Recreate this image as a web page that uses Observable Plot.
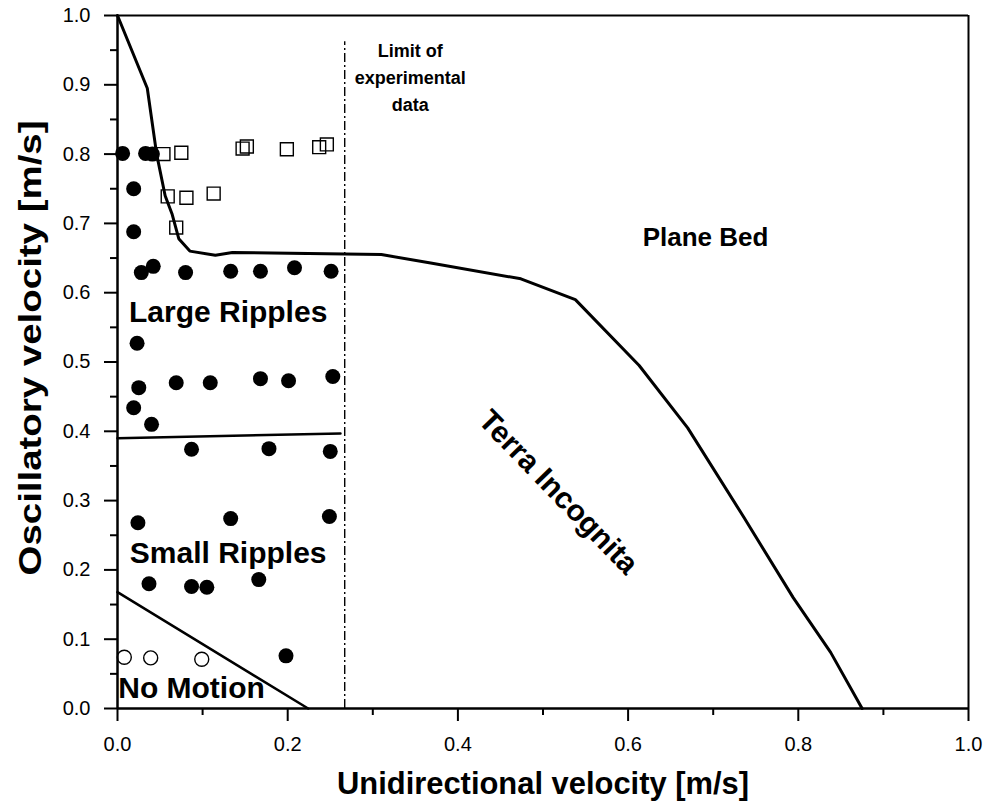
<!DOCTYPE html>
<html>
<head>
<meta charset="utf-8">
<script src="https://cdn.jsdelivr.net/npm/d3@7"></script>
<script src="https://cdn.jsdelivr.net/npm/@observablehq/plot@0.6"></script>
<style>
  html, body { margin: 0; padding: 0; background: #fff; }
  #chart svg { display: block; }
</style>
</head>
<body>
<div id="chart"></div>
<script>
// Ripple observations (filled circles)
const rippleX = [0.006, 0.033, 0.041, 0.019, 0.019,
                 0.028, 0.042, 0.080, 0.133, 0.168, 0.208, 0.251,
                 0.023,
                 0.025, 0.069, 0.109, 0.168, 0.201, 0.253,
                 0.019, 0.040,
                 0.087, 0.178, 0.250,
                 0.024, 0.133, 0.249,
                 0.037, 0.087, 0.105, 0.166,
                 0.198];
const rippleY = [0.801, 0.801, 0.800, 0.750, 0.688,
                 0.629, 0.638, 0.629, 0.631, 0.631, 0.636, 0.631,
                 0.527,
                 0.463, 0.470, 0.470, 0.476, 0.473, 0.479,
                 0.434, 0.410,
                 0.374, 0.375, 0.371,
                 0.268, 0.274, 0.277,
                 0.180, 0.176, 0.175, 0.186,
                 0.076];

// Plane bed observations (open squares)
const planeX = [0.054, 0.075, 0.147, 0.152, 0.199, 0.237, 0.246, 0.059, 0.081, 0.113, 0.069];
const planeY = [0.800, 0.802, 0.808, 0.811, 0.807, 0.810, 0.814, 0.739, 0.737, 0.743, 0.694];

// No motion observations (open circles)
const stillX = [0.008, 0.039, 0.099];
const stillY = [0.074, 0.073, 0.071];

// Ripple / plane bed boundary
const upperX = [0.000, 0.035, 0.046, 0.056, 0.064, 0.072, 0.085, 0.115, 0.135, 0.310,
                0.368, 0.474, 0.538, 0.613, 0.670, 0.736, 0.794, 0.838, 0.875];
const upperY = [1.000, 0.895, 0.800, 0.740, 0.714, 0.678, 0.660, 0.654, 0.658, 0.655,
                0.643, 0.620, 0.590, 0.495, 0.405, 0.276, 0.160, 0.081, 0.000];

// Large / small ripple boundary
const splitX = [0.000, 0.262];
const splitY = [0.390, 0.397];

// Threshold of motion
const thresholdX = [0.000, 0.224];
const thresholdY = [0.168, 0.000];

// Limit of experimental data
const limitX = 0.267;
const limitTop = 0.962;

// Region labels
const regionNames = ["Large Ripples", "Small Ripples", "No Motion", "Plane Bed"];
const regionX = [0.130, 0.130, 0.087, 0.691];
const regionY = [0.571, 0.224, 0.029, 0.680];
const regionSize = [30, 30, 30, 26];

const xMajor = [0, 0.2, 0.4, 0.6, 0.8, 1.0];
const xMinor = [0.1, 0.3, 0.5, 0.7, 0.9];
const yMajor = [0, 0.1, 0.2, 0.3, 0.4, 0.5, 0.6, 0.7, 0.8, 0.9, 1.0];
const yMinor = [0.05, 0.15, 0.25, 0.35, 0.45, 0.55, 0.65, 0.75, 0.85, 0.95];

const xTitle = "Unidirectional velocity [m/s]";
const yTitle = "Oscillatory velocity [m/s]";

const pts = (xs, ys) => xs.map((x, i) => ({x, y: ys[i]}));
const ripples = pts(rippleX, rippleY);
const plane = pts(planeX, planeY);
const still = pts(stillX, stillY);
const upper = pts(upperX, upperY);
const split = pts(splitX, splitY);
const threshold = pts(thresholdX, thresholdY);
const regions = regionNames.map((name, i) => ({name, x: regionX[i], y: regionY[i], size: regionSize[i]}));

const fmt = d3.format(".1f");
const font = "'Liberation Sans', Arial, sans-serif";

const chart = Plot.plot({
  width: 987,
  height: 811,
  marginLeft: 117,
  marginRight: 19,
  marginTop: 15,
  marginBottom: 103,
  style: {fontFamily: font, background: "#fff", color: "#000"},
  x: {domain: [0, 1]},
  y: {domain: [0, 1]},
  marks: [
    Plot.axisX(xMajor, {tickSize: 13, tickPadding: 15, tickFormat: fmt, fontSize: 20, strokeWidth: 2, label: null}),
    Plot.axisX(xMinor, {tickSize: 7, tickFormat: () => "", strokeWidth: 2, label: null}),
    Plot.axisY(yMajor, {tickSize: 13, tickPadding: 14, tickFormat: fmt, fontSize: 20, strokeWidth: 2, label: null}),
    Plot.axisY(yMinor, {tickSize: 7, tickFormat: () => "", strokeWidth: 2, label: null}),
    Plot.ruleY([1], {stroke: "#000", strokeWidth: 2}),
    Plot.ruleX([1], {stroke: "#000", strokeWidth: 2}),
    Plot.ruleY([0], {stroke: "#000", strokeWidth: 2.5}),
    Plot.ruleX([0], {stroke: "#000", strokeWidth: 2.5}),
    Plot.ruleX([limitX], {y1: 0, y2: limitTop, stroke: "#000", strokeWidth: 1.4, strokeDasharray: "9,3,2,3"}),
    Plot.line(upper, {x: "x", y: "y", stroke: "#000", strokeWidth: 3, strokeLinejoin: "round"}),
    Plot.line(split, {x: "x", y: "y", stroke: "#000", strokeWidth: 2.5}),
    Plot.line(threshold, {x: "x", y: "y", stroke: "#000", strokeWidth: 2.5}),
    Plot.dot(plane, {x: "x", y: "y", symbol: "square", r: 7.3, stroke: "#000", strokeWidth: 1.4, fill: "none"}),
    Plot.dot(still, {x: "x", y: "y", r: 7, stroke: "#000", strokeWidth: 1.4, fill: "none"}),
    Plot.dot(ripples, {x: "x", y: "y", r: 7.5, fill: "#000", stroke: "none"}),
    Plot.text(regions, {x: "x", y: "y", text: "name", fontSize: d => d.size, fontWeight: "bold", fill: "#000"}),
    Plot.text(["Terra Incognita"], {x: 0.518, y: 0.312, rotate: 46, fontSize: 30, fontWeight: "bold", fill: "#000"}),
    Plot.text(["Limit of\nexperimental\ndata"], {x: 0.344, y: 0.913, fontSize: 18, fontWeight: "bold", lineHeight: 1.5, fill: "#000"}),
    Plot.text([xTitle], {frameAnchor: "bottom", textAnchor: "middle", dy: 85, fontSize: 32, fontWeight: "bold", fill: "#000"}),
    Plot.text([yTitle], {frameAnchor: "left", textAnchor: "middle", dx: -87, dy: -14, rotate: -90, fontSize: 32, fontWeight: "bold", fill: "#000"})
  ]
});

// Fit the axis titles to their lengths
d3.select(chart).selectAll("text").each(function () {
  const t = this.textContent;
  if (t === xTitle) {
    this.setAttribute("textLength", 412);
    this.setAttribute("lengthAdjust", "spacingAndGlyphs");
  } else if (t === yTitle) {
    this.setAttribute("textLength", 455);
    this.setAttribute("lengthAdjust", "spacingAndGlyphs");
  }
});

document.getElementById("chart").appendChild(chart);
</script>
</body>
</html>
